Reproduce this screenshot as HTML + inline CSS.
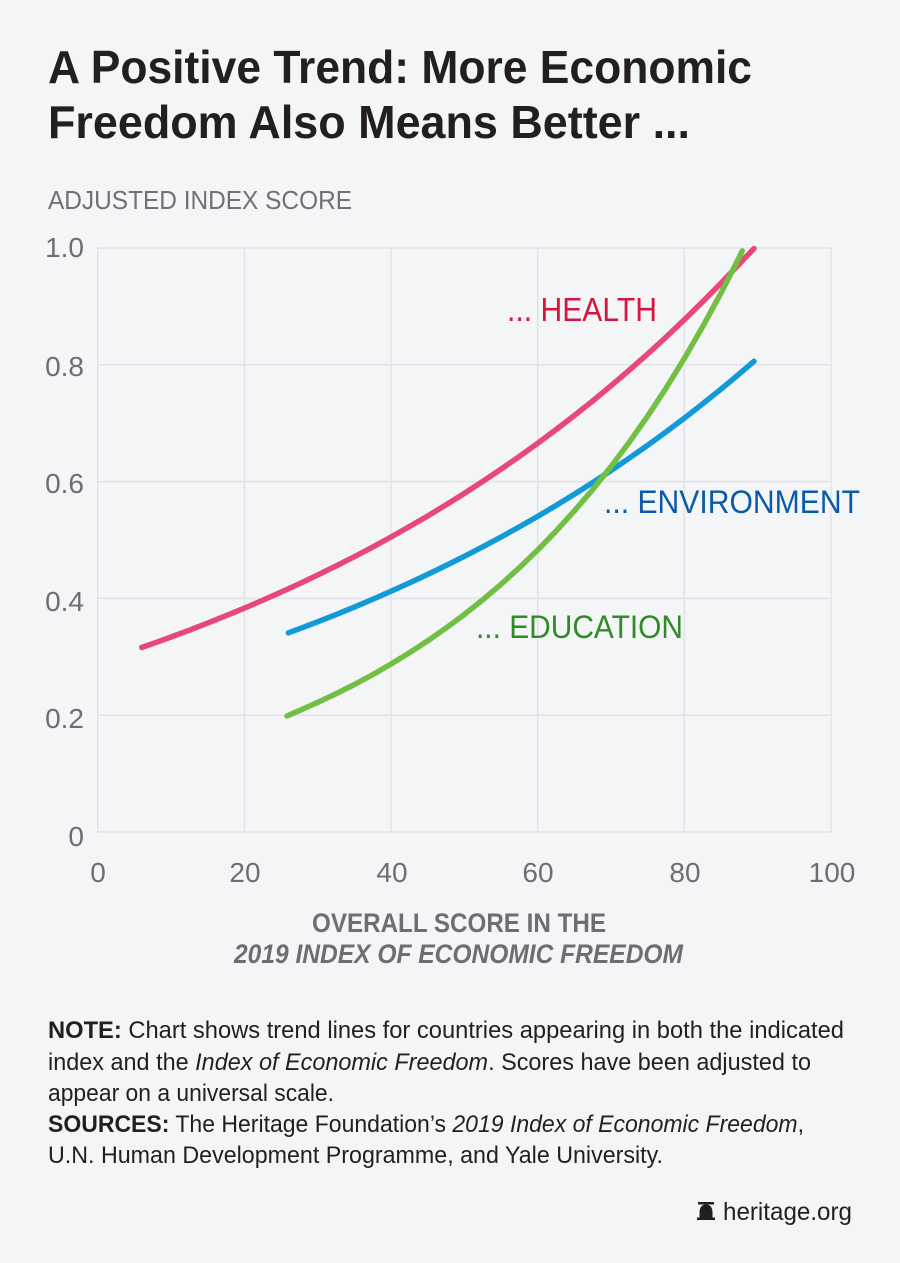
<!DOCTYPE html>
<html>
<head>
<meta charset="utf-8">
<style>
  html, body { margin:0; padding:0; background:#f4f5f7; }
  svg { display:block; }
  text { font-family: "Liberation Sans", sans-serif; }
</style>
</head>
<body>
<svg width="900" height="1263" viewBox="0 0 900 1263" xmlns="http://www.w3.org/2000/svg">
  <rect x="0" y="0" width="900" height="1263" fill="#f4f5f7"/>

  <!-- Title -->
  <text x="48" y="83" font-size="46" font-weight="bold" fill="#231f20" textLength="704" lengthAdjust="spacingAndGlyphs">A Positive Trend: More Economic</text>
  <text x="48" y="138" font-size="46" font-weight="bold" fill="#231f20" textLength="642" lengthAdjust="spacingAndGlyphs">Freedom Also Means Better ...</text>

  <!-- Y axis title -->
  <text x="48" y="209" font-size="26" fill="#707174" textLength="304" lengthAdjust="spacingAndGlyphs">ADJUSTED INDEX SCORE</text>

  <!-- Grid -->
  <g stroke="#e2e3e6" stroke-width="1.5" fill="none">
    <line x1="97.7" y1="248" x2="831" y2="248"/>
    <line x1="97.7" y1="364.8" x2="831" y2="364.8"/>
    <line x1="97.7" y1="481.6" x2="831" y2="481.6"/>
    <line x1="97.7" y1="598.4" x2="831" y2="598.4"/>
    <line x1="97.7" y1="715.2" x2="831" y2="715.2"/>
    <line x1="97.7" y1="832" x2="831" y2="832"/>
    <line x1="97.7" y1="248" x2="97.7" y2="832"/>
    <line x1="244.4" y1="248" x2="244.4" y2="832"/>
    <line x1="391" y1="248" x2="391" y2="832"/>
    <line x1="537.7" y1="248" x2="537.7" y2="832"/>
    <line x1="684.3" y1="248" x2="684.3" y2="832"/>
    <line x1="831" y1="248" x2="831" y2="832"/>
  </g>

  <!-- Y tick labels -->
  <g font-size="28" fill="#6d6e71" text-anchor="end">
    <text x="84" y="257">1.0</text>
    <text x="84" y="376">0.8</text>
    <text x="84" y="493">0.6</text>
    <text x="84" y="611">0.4</text>
    <text x="84" y="728">0.2</text>
    <text x="84" y="846">0</text>
  </g>

  <!-- X tick labels -->
  <g font-size="28" fill="#6d6e71" text-anchor="middle">
    <text x="98" y="882">0</text>
    <text x="245" y="882">20</text>
    <text x="392" y="882">40</text>
    <text x="538" y="882">60</text>
    <text x="685" y="882">80</text>
    <text x="832" y="882">100</text>
  </g>

  <!-- Curves -->
  <g fill="none" stroke-width="5.5" stroke-linecap="round" stroke-linejoin="round">
    <polyline stroke="#e8477a" points="141.7,647.5 156.4,642.29 171.0,636.99 189.4,630.15 207.7,623.06 226.0,615.73 244.4,608.13 262.7,600.27 281.0,592.15 299.4,583.73 317.7,575.02 336.0,566.01 354.4,556.68 372.7,547.02 391.0,537.01 409.3,526.66 427.7,515.95 446.0,504.86 464.4,493.36 482.7,481.48 501.0,469.19 519.3,456.46 537.7,443.28 556.0,429.63 574.3,415.52 592.7,400.91 611.0,385.77 629.3,370.12 647.7,353.91 666.0,337.13 684.3,319.76 702.6,301.79 721.0,283.19 739.3,263.93 754.0,248.5"/>
    <polyline stroke="#109ad7" points="288.4,632.86 303.0,627.39 317.7,621.76 336.0,614.52 354.4,607.03 372.7,599.28 391.0,591.27 409.3,582.98 427.7,574.41 446.0,565.53 464.4,556.34 482.7,546.85 501.0,537.03 519.3,526.87 537.7,516.36 556.0,505.48 574.3,494.23 592.7,482.60 611.0,470.57 629.3,458.13 647.7,445.24 666.0,431.92 684.3,418.14 702.6,403.89 721.0,389.13 739.3,373.87 754.0,361.3"/>
    <polyline stroke="#72bf44" points="286.9,716.0 299.4,710.55 317.7,702.42 336.0,693.75 354.4,684.50 372.7,674.63 391.0,664.08 409.3,652.84 427.7,640.85 446.0,628.05 464.4,614.40 482.7,599.83 501.0,584.30 519.3,567.72 537.7,550.03 556.0,531.15 574.3,511.01 592.7,489.53 611.0,466.61 629.3,442.15 647.7,416.04 666.0,388.20 684.3,358.48 702.6,326.78 721.0,293.00 732.0,271.63 742.3,250.92"/>
  </g>

  <!-- Series labels -->
  <text x="507" y="321" font-size="33" fill="#d3173e" textLength="150" lengthAdjust="spacingAndGlyphs">... HEALTH</text>
  <text x="604" y="513" font-size="32" fill="#0b5aa8" textLength="256" lengthAdjust="spacingAndGlyphs">... ENVIRONMENT</text>
  <text x="476" y="638" font-size="32" fill="#2f8c24" textLength="207" lengthAdjust="spacingAndGlyphs">... EDUCATION</text>

  <!-- X axis title -->
  <text x="312" y="932" font-size="27" font-weight="bold" fill="#6d6e71" textLength="294" lengthAdjust="spacingAndGlyphs">OVERALL SCORE IN THE</text>
  <text x="234" y="963" font-size="27" font-weight="bold" font-style="italic" fill="#6d6e71" textLength="449" lengthAdjust="spacingAndGlyphs">2019 INDEX OF ECONOMIC FREEDOM</text>

  <!-- Notes -->
  <g font-size="24.5" fill="#231f20">
    <text x="48" y="1038" textLength="796" lengthAdjust="spacingAndGlyphs"><tspan font-weight="bold">NOTE:</tspan> Chart shows trend lines for countries appearing in both the indicated</text>
    <text x="48" y="1070" textLength="763" lengthAdjust="spacingAndGlyphs">index and the <tspan font-style="italic">Index of Economic Freedom</tspan>. Scores have been adjusted to</text>
    <text x="48" y="1101" textLength="286" lengthAdjust="spacingAndGlyphs">appear on a universal scale.</text>
    <text x="48" y="1132" textLength="756" lengthAdjust="spacingAndGlyphs"><tspan font-weight="bold">SOURCES:</tspan> The Heritage Foundation’s <tspan font-style="italic">2019 Index of Economic Freedom</tspan>,</text>
    <text x="48" y="1163" textLength="615" lengthAdjust="spacingAndGlyphs">U.N. Human Development Programme, and Yale University.</text>
  </g>

  <!-- Footer -->
  <g fill="#231f20">
    <rect x="698" y="1202" width="16" height="2.5"/>
    <path d="M699.5 1220 L699.5 1213 Q699.5 1204.5 706 1204.5 Q712.5 1204.5 712.5 1213 L712.5 1220 Z"/>
    <rect x="697" y="1217.5" width="18" height="2.5"/>
  </g>
  <text x="723" y="1220" font-size="25" fill="#231f20" textLength="129" lengthAdjust="spacingAndGlyphs">heritage.org</text>
</svg>
</body>
</html>
